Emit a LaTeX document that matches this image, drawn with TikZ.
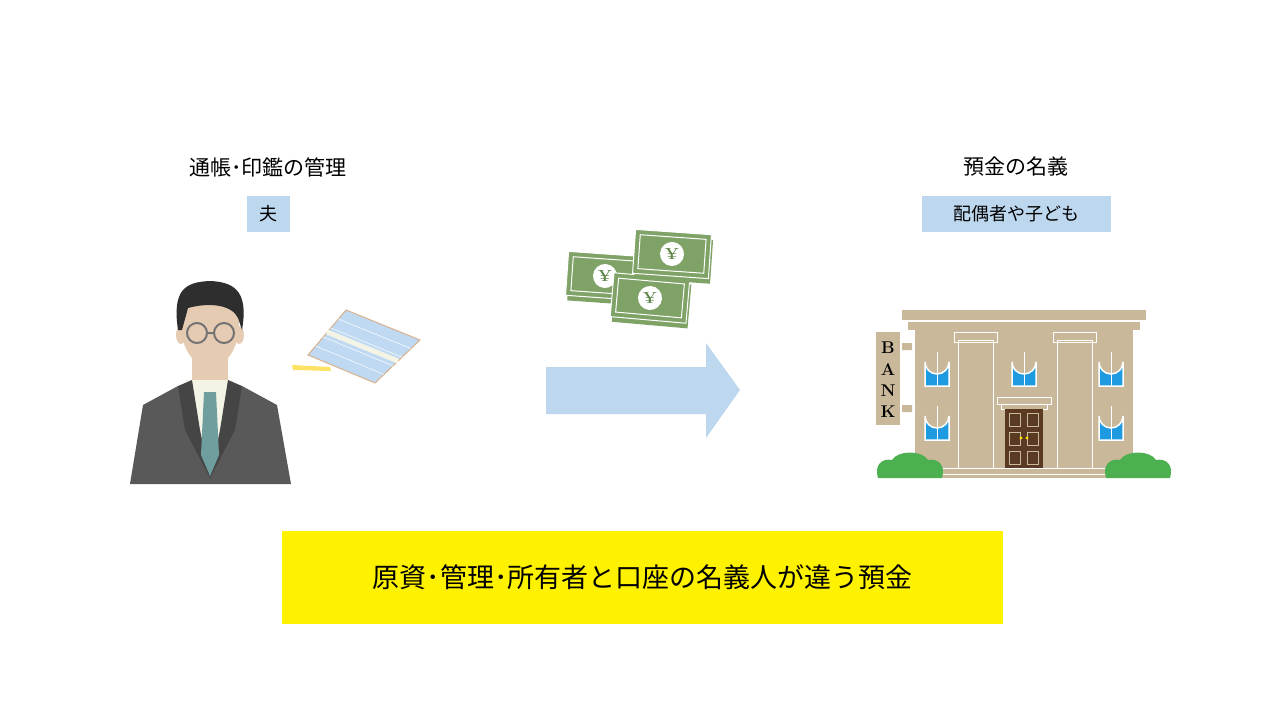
\documentclass[tikz,border=0pt]{standalone}
\usepackage{fontspec}
\usetikzlibrary{calc}
\newfontfamily\jp{Noto Sans CJK JP}
\definecolor{lblue}{HTML}{BDD7EE}
\definecolor{suit}{HTML}{595959}
\definecolor{lapel}{HTML}{454545}
\definecolor{skin}{HTML}{E6CBB3}
\definecolor{hair}{HTML}{2E2E2E}
\definecolor{tie}{HTML}{6E9E9E}
\definecolor{shirt}{HTML}{F4F4E6}
\definecolor{bill}{HTML}{7FA266}
\definecolor{billd}{HTML}{5E8548}
\definecolor{tan}{HTML}{C9B99A}
\definecolor{win}{HTML}{1E9BE0}
\definecolor{door}{HTML}{5A3A22}
\definecolor{bush}{HTML}{4CAF50}
\definecolor{pb}{HTML}{BFD9F2}
\tikzset{lbl/.style={font=\jp\fontsize{21}{24}\selectfont, inner sep=0pt},
 tag/.style={fill=lblue, font=\jp\fontsize{18}{20}\selectfont, inner sep=0pt, minimum height=36pt},
 win/.style={fill=win, draw=white, line width=1.5pt}}
\begin{document}
\begin{tikzpicture}[x=1pt,y=-1pt]
\useasboundingbox (0,0) rectangle (1280,720);
% labels
\node[lbl] (t1) at (268,167) {通帳･印鑑の管理};
\node[tag, minimum width=43pt] (h) at (268.5,214) {夫};
\node[lbl] (t2) at (1016,167) {預金の名義};
\node[tag, minimum width=189pt] (s) at (1016.5,214) {配偶者や子ども};
\node[fill=yellow, minimum width=721pt, minimum height=93pt, inner sep=0pt, font=\jp\fontsize{27}{30}\selectfont] (b) at (642.5,577.5) {原資･管理･所有者と口座の名義人が違う預金};
% arrow
\fill[lblue] (546,367) -- (706,367) -- (706,343) -- (740,390) -- (706,438) -- (706,414) -- (546,414) -- cycle;
% person
\fill[suit] (130,484) -- (143,405) -- (178,386) -- (242,386) -- (277,405) -- (291,484) -- cycle;
\fill[skin] (192,350) rectangle (228,390);
\fill[shirt] (186,380) -- (234,380) -- (226,430) -- (210,470) -- (194,430) -- cycle;
\fill[lapel] (178,386) -- (192,380) -- (200,430) -- (210,478) -- (185,430) -- cycle;
\fill[lapel] (242,386) -- (228,380) -- (220,430) -- (210,478) -- (235,430) -- cycle;
\fill[tie] (204,392) -- (216,392) -- (219,455) -- (210,476) -- (201,455) -- cycle;
\fill[skin] (181,335) ellipse (5 and 9);
\fill[skin] (239,335) ellipse (5 and 9);
\fill[skin] (210,325) ellipse (29 and 42);
\fill[hair] (178,330) .. controls (172,290) and (185,282) .. (210,281) .. controls (238,282) and (248,295) .. (242,330) -- (238,318) .. controls (232,305) and (210,302) .. (188,308) -- (182,330) -- cycle;
\draw[draw=black!55, line width=2pt] (197,333) circle (10) (224,333) circle (10) (207,333) -- (214,333);
% passbook
\fill[yellow!70!orange!60] (292,365) -- (330,367) -- (331,371) -- (293,370) -- cycle;
\filldraw[fill=pb, draw=brown!60, line width=1pt] (308,355) -- (346,310) -- (420,340) -- (375,383) -- cycle;
\draw[draw=shirt, line width=5pt] (327,332) -- (398,361);
\foreach \i in {0.2,0.4,0.6,0.8}{\draw[white, line width=0.5pt] ($(308,355)!\i!(346,310)$) -- ($(375,383)!\i!(420,340)$);}
% money
\foreach \cx/\cy/\r in {605/276/-4, 650/298/-5, 672/254/-4}{
 \begin{scope}[shift={(\cx,\cy)}, rotate=\r]
 \fill[bill] (-36,-17) rectangle (40,27);
 \filldraw[fill=bill, draw=white, line width=1pt] (-38,-22) rectangle (38,22);
 \draw[white, line width=1pt] (-33,-17) rectangle (33,17);
 \fill[white] (0,0) circle (12);
 \node[text=billd, font=\bfseries\fontsize{16}{16}\selectfont, inner sep=0pt] at (0,0) {¥};
 \end{scope}}
% bank
\fill[tan] (915,330) rectangle (1133,470);
\fill[tan] (902,310) rectangle (1146,320);
\fill[tan] (908,322) rectangle (1140,330);
\foreach \x in {958,1057}{\filldraw[fill=tan, draw=white, line width=1pt] (\x,340) rectangle (\x+35,468) (\x-4,332) rectangle (\x+39,342);}
\foreach \x in {937,1024,1111}{\filldraw[win] (\x-12,386) -- (\x-12,362) arc (180:0:12) -- (\x+12,386) -- cycle; \draw[white] (\x,352) -- (\x,386);}
\foreach \x in {937,1111}{\filldraw[win] (\x-12,440) -- (\x-12,416) arc (180:0:12) -- (\x+12,440) -- cycle; \draw[white] (\x,406) -- (\x,440);}
\filldraw[fill=tan, draw=white, line width=1pt] (997,397) rectangle (1051,404) (1001,404) rectangle (1047,409);
\fill[door] (1005,409) rectangle (1043,468);
\foreach \x in {1009,1027}{\foreach \y in {413,432,451}{\draw[tan, line width=0.8pt] (\x,\y) rectangle (\x+11,\y+13);}}
\fill[yellow!80!orange] (1021,438) circle (1.6) (1027,438) circle (1.6);
\draw[white, line width=1pt] (915,468) -- (1133,468);
\fill[tan] (905,470) rectangle (1145,478);
\draw[white, line width=1pt] (905,474) -- (1145,474);
\fill[tan] (876,332) rectangle (900,425);
\fill[tan] (902,343) rectangle (912,350) (902,405) rectangle (912,412);
\foreach \l/\y in {B/348,A/370,N/391,K/412}{\node[font=\bfseries\fontsize{17}{17}\selectfont, inner sep=0pt] at (888,\y) {\l};}
\foreach \x in {910,1138}{\fill[bush] (\x-32,478) .. controls (\x-36,465) and (\x-28,458) .. (\x-18,460) .. controls (\x-12,450) and (\x+12,450) .. (\x+18,460) .. controls (\x+28,458) and (\x+36,465) .. (\x+32,478) -- cycle;}
\end{tikzpicture}
\end{document}
